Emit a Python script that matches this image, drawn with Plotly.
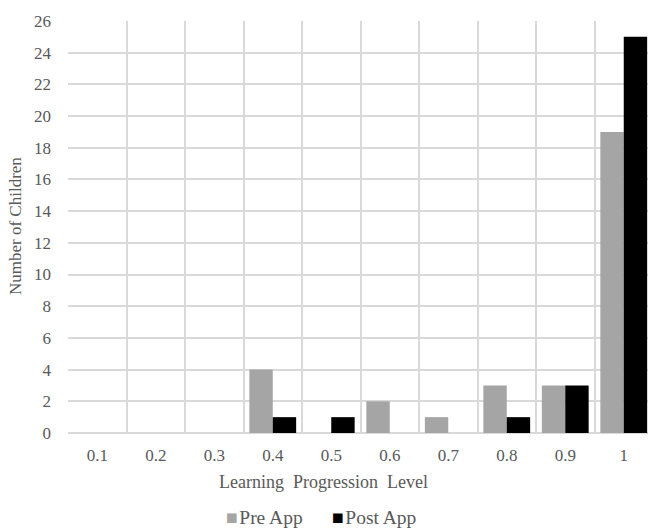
import plotly.graph_objects as go

categories = ["0.1", "0.2", "0.3", "0.4", "0.5", "0.6", "0.7", "0.8", "0.9", "1"]
pre_app = [0, 0, 0, 4, 0, 2, 1, 3, 3, 19]
post_app = [0, 0, 0, 1, 1, 0, 0, 1, 3, 25]
y_ticks = list(range(0, 27, 2))

W, H = 648, 529
L, R, T, B = 68, 0, 21, 96
FAM = "Times New Roman, Liberation Serif, DejaVu Serif, serif"
GREY_TXT = "#595959"
PRE_COL, POST_COL = "#A5A5A5", "#000000"

fig = go.Figure()
fig.add_trace(go.Bar(x=categories, y=pre_app, name="Pre App", marker=dict(color=PRE_COL, line=dict(width=0))))
fig.add_trace(go.Bar(x=categories, y=post_app, name="Post App", marker=dict(color=POST_COL, line=dict(width=0))))

plot_w = W - L - R
plot_h = H - T - B
cat_w = 58.5
fig.update_layout(
    width=W, height=H,
    margin=dict(l=L, r=R, t=T, b=B, autoexpand=False),
    paper_bgcolor="white", plot_bgcolor="white",
    font=dict(family=FAM, size=17, color=GREY_TXT),
    barmode="group", bargap=0.2, bargroupgap=0,
    showlegend=False,
)
fig.update_xaxes(type="category", tickson="boundaries", showgrid=True, gridcolor="#D9D9D9", gridwidth=1.5,
                 range=[-0.5, -0.5 + plot_w / cat_w], ticks="", showline=False, zeroline=False,
                 tickfont=dict(size=17, family=FAM, color=GREY_TXT), ticklabelstandoff=10, automargin=False)
fig.update_yaxes(range=[0, 26], tickvals=y_ticks, showgrid=True, gridcolor="#D9D9D9", gridwidth=1.5,
                 zeroline=True, zerolinecolor="#D9D9D9", zerolinewidth=1.5, showline=False, ticks="",
                 tickfont=dict(size=17, family=FAM, color=GREY_TXT), ticklabelstandoff=16, automargin=False)

def px_x(px):
    return (px - L) / plot_w

def px_y(py):
    return 1 - (py - T) / plot_h

fig.add_annotation(text="Learning  Progression  Level", xref="paper", yref="paper",
                   x=px_x(323), y=px_y(482), showarrow=False,
                   xanchor="center", yanchor="middle", font=dict(size=18, color=GREY_TXT, family=FAM))
fig.add_annotation(text="Number of Children", xref="paper", yref="paper", textangle=-90,
                   x=px_x(15), y=px_y(226), showarrow=False,
                   xanchor="center", yanchor="middle", font=dict(size=17, color=GREY_TXT, family=FAM))

# legend entries
legend_items = [("Pre App", PRE_COL, 224), ("Post App", POST_COL, 330)]
for name, col, left_px in legend_items:
    fig.add_annotation(text=f"<span style='color:{col}'>■</span><span style='font-size:6px'> </span>{name}",
                       xref="paper", yref="paper",
                       x=px_x(left_px), y=px_y(517), showarrow=False, xanchor="left", yanchor="middle",
                       font=dict(size=19.5, color=GREY_TXT, family=FAM))

fig.write_html("out.html", config={"displayModeBar": False},
               post_script="document.body.style.margin='0';document.body.style.padding='0';document.body.style.overflow='hidden';")
